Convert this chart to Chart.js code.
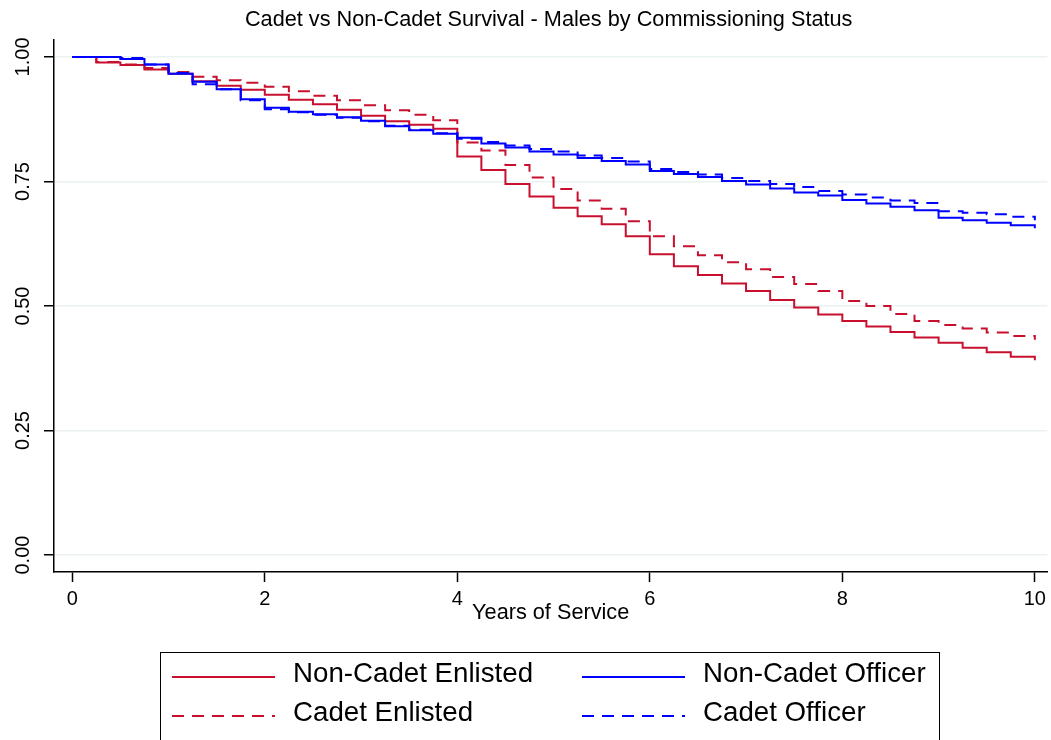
<!DOCTYPE html>
<html>
<head>
<meta charset="utf-8">
<script src="https://cdn.jsdelivr.net/npm/chart.js@4.4.1/dist/chart.umd.min.js"></script>
<style>
  html, body { margin: 0; padding: 0; background: #ffffff; }
  #wrap { width: 1051px; height: 740px; position: relative; }
</style>
</head>
<body>
<div id="wrap"><canvas id="c" width="1051" height="740"></canvas></div>
<script>
const chartTitle = "Cadet vs Non-Cadet Survival - Males by Commissioning Status";
const xTitle = "Years of Service";
const xTicks = [0, 2, 4, 6, 8, 10];
const yTicks = [0, 0.25, 0.5, 0.75, 1];
const seriesNames = ["Non-Cadet Enlisted", "Cadet Enlisted", "Non-Cadet Officer", "Cadet Officer"];

const years = [0, 0.25, 0.5, 0.75, 1, 1.25, 1.5, 1.75, 2, 2.25, 2.5, 2.75, 3, 3.25, 3.5, 3.75,
  4, 4.25, 4.5, 4.75, 5, 5.25, 5.5, 5.75, 6, 6.25, 6.5, 6.75, 7, 7.25, 7.5, 7.75,
  8, 8.25, 8.5, 8.75, 9, 9.25, 9.5, 9.75, 10];

const nonCadetEnlisted = [1.000, 0.989, 0.984, 0.975, 0.966, 0.951, 0.942, 0.934, 0.924, 0.914, 0.905, 0.894, 0.882, 0.871, 0.864, 0.856,
  0.800, 0.773, 0.745, 0.720, 0.697, 0.680, 0.664, 0.640, 0.604, 0.580, 0.562, 0.545, 0.530, 0.512, 0.497, 0.483,
  0.470, 0.459, 0.448, 0.437, 0.426, 0.416, 0.407, 0.398, 0.391];

const cadetEnlisted = [1.000, 0.990, 0.985, 0.978, 0.970, 0.960, 0.953, 0.948, 0.940, 0.931, 0.922, 0.913, 0.903, 0.893, 0.884, 0.873,
  0.828, 0.812, 0.783, 0.758, 0.735, 0.712, 0.695, 0.670, 0.640, 0.620, 0.602, 0.588, 0.574, 0.558, 0.544, 0.530,
  0.510, 0.500, 0.484, 0.470, 0.462, 0.455, 0.447, 0.440, 0.432];

const nonCadetOfficer = [1.000, 1.000, 0.996, 0.985, 0.966, 0.950, 0.935, 0.915, 0.898, 0.890, 0.885, 0.879, 0.872, 0.861, 0.853, 0.846,
  0.838, 0.826, 0.818, 0.810, 0.804, 0.797, 0.791, 0.784, 0.771, 0.765, 0.759, 0.751, 0.744, 0.736, 0.728, 0.722,
  0.713, 0.706, 0.699, 0.692, 0.677, 0.672, 0.667, 0.662, 0.656];

const cadetOfficer = [1.000, 1.000, 0.998, 0.985, 0.968, 0.945, 0.935, 0.913, 0.895, 0.889, 0.884, 0.878, 0.871, 0.862, 0.854, 0.847,
  0.836, 0.829, 0.822, 0.815, 0.810, 0.802, 0.797, 0.790, 0.775, 0.769, 0.764, 0.757, 0.751, 0.745, 0.739, 0.731,
  0.724, 0.718, 0.712, 0.707, 0.690, 0.687, 0.684, 0.679, 0.672];

const RED = "rgb(200,16,46)";
const BLUE = "rgb(0,0,255)";
const DASH = [12, 8];
const FONT = "'Liberation Sans', Arial, Helvetica, sans-serif";

function pts(vals) { return years.map((x, i) => ({ x: x, y: vals[i] })); }

const seriesValues = [nonCadetEnlisted, cadetEnlisted, nonCadetOfficer, cadetOfficer];
const seriesColors = [RED, RED, BLUE, BLUE];
const seriesDash = [[], DASH, [], DASH];

const datasets = seriesNames.map((name, i) => ({
  label: name,
  data: pts(seriesValues[i]),
  borderColor: seriesColors[i],
  backgroundColor: seriesColors[i],
  borderWidth: 2,
  borderDash: seriesDash[i],
  stepped: 'before',
  pointRadius: 0,
  fill: false,
  order: 3 - i
}));

const decorPlugin = {
  id: 'decor',
  afterDraw(chart) {
    const ctx = chart.ctx;
    const ca = chart.chartArea;
    ctx.save();
    // title
    ctx.fillStyle = '#000';
    ctx.font = "21.7px " + FONT;
    ctx.textAlign = 'center';
    ctx.textBaseline = 'middle';
    ctx.fillText(chartTitle, (ca.left + ca.right) / 2 - 2, 20);

    // legend box
    ctx.strokeStyle = '#000';
    ctx.lineWidth = 1;
    ctx.strokeRect(160.5, 652.5, 779, 100);
    const cols = [172, 582];
    const rows = [677, 716];
    const lineLen = 103;
    ctx.font = "27.7px " + FONT;
    ctx.textAlign = 'left';
    ctx.textBaseline = 'middle';
    const order = [0, 2, 1, 3];
    order.forEach((si, k) => {
      const col = k % 2, row = Math.floor(k / 2);
      const x0 = cols[col], y0 = rows[row];
      ctx.beginPath();
      ctx.strokeStyle = seriesColors[si];
      ctx.lineWidth = 2;
      ctx.setLineDash(seriesDash[si]);
      ctx.moveTo(x0, y0);
      ctx.lineTo(x0 + lineLen, y0);
      ctx.stroke();
      ctx.setLineDash([]);
      ctx.fillStyle = '#000';
      ctx.fillText(seriesNames[si], x0 + 121, y0 - 3);
    });
    ctx.restore();
  }
};

new Chart(document.getElementById('c'), {
  type: 'line',
  data: { datasets: datasets },
  plugins: [decorPlugin],
  options: {
    responsive: false,
    animation: false,
    devicePixelRatio: 1,
    layout: { padding: { top: 40, right: 3, bottom: 108, left: 0 } },
    plugins: {
      legend: { display: false },
      title: { display: false },
      tooltip: { enabled: false }
    },
    scales: {
      x: {
        type: 'linear',
        min: -0.19,
        max: 10.13,
        afterBuildTicks(scale) { scale.ticks = xTicks.map(v => ({ value: v })); },
        afterFit(scale) { scale.height = 60; },
        grid: { drawOnChartArea: false, drawTicks: true, tickLength: 10, tickColor: '#000', tickWidth: 1.5 },
        border: { display: true, color: '#000', width: 1.5 },
        ticks: { color: '#000', font: { size: 20, family: FONT }, padding: 5, maxRotation: 0, callback: v => String(v) },
        title: { display: true, text: xTitle, color: '#000', font: { size: 21.7, family: FONT }, padding: { top: 0, bottom: 6 } }
      },
      y: {
        type: 'linear',
        min: -0.034,
        max: 1.034,
        afterBuildTicks(scale) { scale.ticks = yTicks.map(v => ({ value: v })); },
        afterFit(scale) { scale.width = 54; },
        grid: { color: '#EAF2F3', lineWidth: 1.5, drawTicks: true, tickLength: 10, tickColor: '#000', tickWidth: 1.5 },
        border: { display: true, color: '#000', width: 1.5 },
        ticks: { color: '#000', font: { size: 20, family: FONT }, padding: 1, minRotation: 90, maxRotation: 90, crossAlign: 'center', callback: v => v.toFixed(2) }
      }
    }
  }
});
</script>
</body>
</html>
